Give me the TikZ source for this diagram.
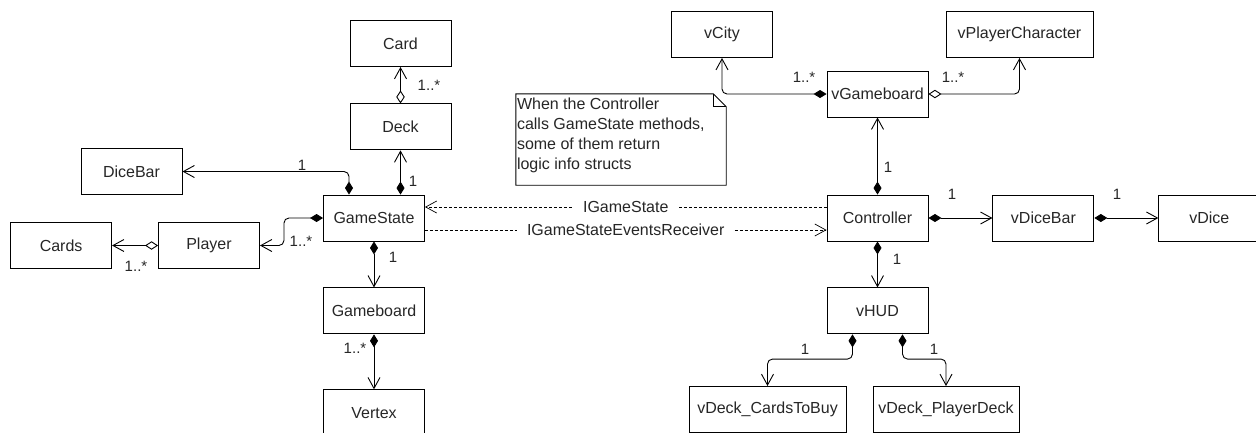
\documentclass[tikz,border=0pt]{standalone}
\usepackage{fontspec}
\setmainfont{Liberation Sans}
\usetikzlibrary{
  positioning,
  arrows.meta
}

\begin{document}
\begin{tikzpicture}[
  x=1pt, y=-1pt,
  every node/.style={font=\fontsize{16}{20}\selectfont, text=black!85},
  cls/.style={draw, rectangle, line width=0.9pt, minimum width=101pt, minimum height=46pt, inner sep=2pt, align=center},
  mult/.style={font=\fontsize{15}{18}\selectfont, inner sep=0pt},
  comp/.style={line width=0.9pt, rounded corners=5pt, {Diamond[length=13pt,width=8pt]}-{Straight Barb[length=11pt,width=12pt]}},
  aggr/.style={line width=0.9pt, rounded corners=5pt, {Diamond[open,length=13pt,width=8.5pt]}-{Straight Barb[length=11pt,width=12pt]}},
  iface/.style={line width=0.7pt, dash pattern=on 3pt off 2pt, -{Straight Barb[length=11pt,width=12pt]}},
  ifacelabel/.style={fill=white, inner xsep=10pt, inner ysep=1pt}
]
\useasboundingbox (0,0) rectangle (1256,432);

% Logic side
\node[cls] (card) at (400.5,43.5) {Card};
\node[cls, below=36.5pt of card] (deck) {Deck};
\node[cls] (gamestate) at (374,218) {GameState};
\node[cls] (dicebar) at (131.5,171.5) {DiceBar};
\node[cls] (player) at (209,245.5) {Player};
\node[cls, left=46pt of player] (cards) {Cards};
\node[cls, below=46pt of gamestate] (gameboard) {Gameboard};
\node[cls, below=55pt of gameboard] (vertex) {Vertex};

% View side
\node[cls] (controller) at (877.5,218) {Controller};
\node[cls] (vgameboard) at (877.5,94) {vGameboard};
\node[cls] (vcity) at (722,34.5) {vCity};
\node[cls, minimum width=147pt] (vplayerchar) at (1019.5,34.5) {vPlayerCharacter};
\node[cls, right=64pt of controller] (vdicebar) {vDiceBar};
\node[cls, right=64pt of vdicebar] (vdice) {vDice};
\node[cls, below=46pt of controller] (vhud) {vHUD};
\node[cls, minimum width=157pt] (cardstobuy) at (767.5,409.5) {vDeck\_CardsToBuy};
\node[cls, minimum width=146pt] (playerdeck) at (946,409.5) {vDeck\_PlayerDeck};

% Note
\node[minimum width=210pt, minimum height=91pt] (note) at (621,139.5) {};
\draw[line width=0.9pt] (note.north west) -- ([xshift=-13pt]note.north east) -- ([yshift=-13pt]note.north east)
  -- (note.south east) -- (note.south west) -- cycle;
\draw[line width=0.9pt] ([xshift=-13pt]note.north east) |- ([yshift=-13pt]note.north east);
\node[anchor=north west, align=left, inner sep=0pt] (notetext) at ([xshift=1pt,yshift=-4pt]note.north west)
  {When the Controller\\calls GameState methods,\\some of them return\\logic info structs};

% Associations
\draw[aggr] (deck.north) -- (card.south);
\draw[comp] (gamestate.north -| deck.south) -- (deck.south);
\draw[comp] ([xshift=-25pt]gamestate.north) |- (dicebar.east);
\draw[comp] (gamestate.west) -| ([xshift=24pt]player.east) -- (player.east);
\draw[aggr] (player.west) -- (cards.east);
\draw[comp] (gamestate.south) -- (gameboard.north);
\draw[comp] (gameboard.south) -- (vertex.north);

\draw[comp] (vgameboard.west) -| (vcity.south);
\draw[aggr] (vgameboard.east) -| (vplayerchar.south);
\draw[comp] (controller.north) -- (vgameboard.south);
\draw[comp] (controller.east) -- (vdicebar.west);
\draw[comp] (vdicebar.east) -- (vdice.west);
\draw[comp] (controller.south) -- (vhud.north);
\draw[comp] ([xshift=-25pt]vhud.south) |- ([yshift=27pt]cardstobuy.north) -- (cardstobuy.north);
\draw[comp] ([xshift=25pt]vhud.south) |- ([yshift=27pt]playerdeck.north) -- (playerdeck.north);

% Interfaces
\draw[iface] ([yshift=11pt]controller.west) -- ([yshift=11pt]gamestate.east)
  node[ifacelabel, midway] (igs) {IGameState};
\draw[iface] ([yshift=-12pt]gamestate.east) -- ([yshift=-12pt]controller.west)
  node[ifacelabel, midway] (igser) {IGameStateEventsReceiver};

% Multiplicities
\node[mult] (m-card) at (429,85) {1..*};
\node[mult] (m-deck) at (413,181) {1};
\node[mult] (m-dicebar) at (302,165) {1};
\node[mult] (m-player) at (301,241) {1..*};
\node[mult] (m-cards) at (136,266) {1..*};
\node[mult] (m-gameboard) at (393,257) {1};
\node[mult] (m-vertex) at (355,348) {1..*};
\node[mult] (m-vcity) at (804,77) {1..*};
\node[mult] (m-vplayerchar) at (953,77) {1..*};
\node[mult] (m-vgameboard) at (888,167) {1};
\node[mult] (m-vdicebar) at (952,194) {1};
\node[mult] (m-vdice) at (1117,194) {1};
\node[mult] (m-vhud) at (897,259) {1};
\node[mult] (m-cardstobuy) at (805,349) {1};
\node[mult] (m-playerdeck) at (934,349) {1};

\end{tikzpicture}
\end{document}
